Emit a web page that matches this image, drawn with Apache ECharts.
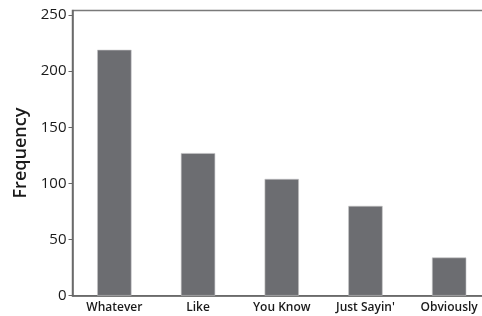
<!DOCTYPE html>
<html>
<head>
<meta charset="utf-8">
<style>
  html, body { margin: 0; padding: 0; background: #fff; }
  #chart { width: 482px; height: 316px; }
</style>
<script src="https://cdn.jsdelivr.net/npm/echarts@6/dist/echarts.min.js"></script>
</head>
<body>
<div id="chart"></div>
<script>
// data
const categories = ['Whatever', 'Like', 'You Know', "Just Sayin'", 'Obviously'];
const frequency = [219, 127, 104, 80, 34];
const yTicks = [0, 50, 100, 150, 200, 250];

const chart = echarts.init(document.getElementById('chart'), null, { renderer: 'canvas' });

// the plot runs past the right edge of the picture, so give width instead of right
// and switch off v6's outer bounds clamping
chart.setOption({
  animation: false,
  textStyle: { fontFamily: 'Open Sans' },
  grid: {
    left: 72.5, width: 418.5, top: 10.5, bottom: 20.3,
    outerBoundsMode: 'none',
    containLabel: false,
    show: true, borderColor: '#7a7a7a', borderWidth: 1.5, backgroundColor: 'transparent'
  },
  xAxis: {
    type: 'category',
    data: categories,
    axisLine: { lineStyle: { color: '#666', width: 1.5 } },
    axisTick: { alignWithLabel: true, length: 3, lineStyle: { color: '#666' } },
    axisLabel: { color: '#1a1a1a', fontSize: 12, fontWeight: 600, margin: 6, interval: 0 }
  },
  yAxis: {
    type: 'value',
    min: 0,
    max: 254,
    interval: 50,
    name: 'Frequency',
    nameLocation: 'middle',
    nameGap: 42,
    nameTextStyle: { fontSize: 18, fontWeight: 600, color: '#1a1a1a' },
    splitLine: { show: false },
    axisLine: { show: true, lineStyle: { color: '#666', width: 1.5 } },
    axisTick: { show: true, length: 4, customValues: yTicks, lineStyle: { color: '#666' } },
    axisLabel: { customValues: yTicks, color: '#1a1a1a', fontSize: 15, fontWeight: 500, margin: 6 }
  },
  series: [{
    type: 'bar',
    data: frequency,
    barWidth: '41%',
    itemStyle: { color: '#6c6d71', borderColor: '#c4c4c6', borderWidth: 0.6 }
  }]
});
</script>
</body>
</html>
